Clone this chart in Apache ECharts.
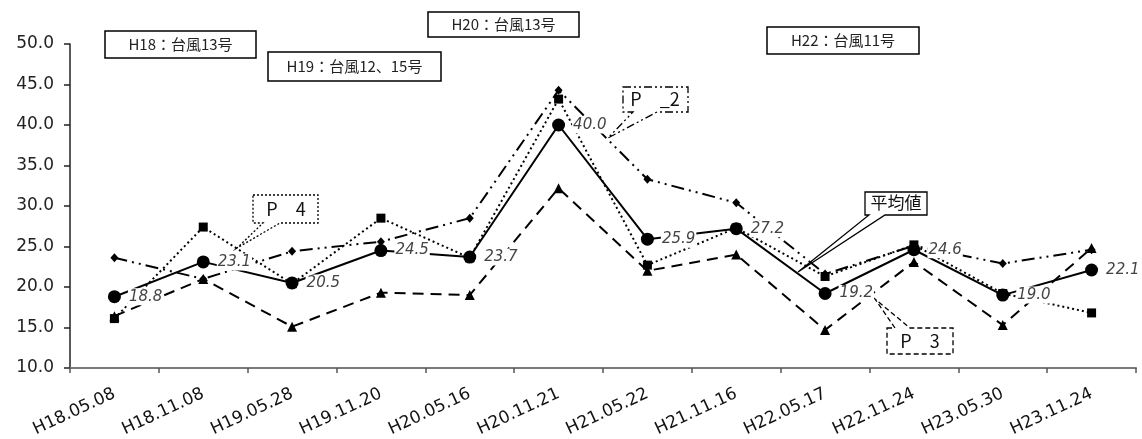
<!DOCTYPE html>
<html><head><meta charset="utf-8">
<script src="https://cdn.jsdelivr.net/npm/echarts@6/dist/echarts.min.js"></script>
<style>html,body{margin:0;padding:0;background:#fff}#c{width:1142px;height:439px}</style>
</head><body><div id="c"></div>
<script>
const categories = ['H18.05.08','H18.11.08','H19.05.28','H19.11.20','H20.05.16','H20.11.21','H21.05.22','H21.11.16','H22.05.17','H22.11.24','H23.05.30','H23.11.24'];
const meanValues = [18.8,23.1,20.5,24.5,23.7,40.0,25.9,27.2,19.2,24.6,19.0,22.1];
const p2Values = [23.6,21.0,24.4,25.6,28.5,44.3,33.3,30.4,21.6,25.1,22.9,24.6];
const p3Values = [16.4,21.0,15.1,19.3,19.0,32.2,22.0,24.0,14.7,23.1,15.3,24.8];
const p4Values = [16.1,27.4,20.4,28.5,23.6,43.2,22.7,27.3,21.3,25.2,19.2,16.8];
const yMin = 10, yMax = 50, yStep = 5;
const eventLabels = ['H18：台風13号','H19：台風12、15号','H20：台風13号','H22：台風11号'];
const calloutLabels = ['平均値','P　_2','P　3','P　4'];

const chart = echarts.init(document.getElementById('c'), null, {renderer:'canvas'});
const F = 'DejaVu Sans';
const CJK = '"Noto Sans CJK JP", "Noto Sans CJK SC", sans-serif';

function box(x,y,w,h,text,fs){
  return {type:'group', z:50, children:[
    {type:'rect', shape:{x:x,y:y,width:w,height:h}, style:{fill:'#fff', stroke:'#000', lineWidth:1.5}},
    {type:'text', x:x+w/2, y:y+h/2, style:{text:text, fill:'#222', font:'400 '+fs+'px '+CJK, align:'center', verticalAlign:'middle'}}
  ]};
}
function callout(pts, text, tx, ty, dash, fs){
  return {type:'group', z:50, children:[
    {type:'polygon', shape:{points:pts}, style:{fill:'rgba(255,255,255,0)', stroke:'#000', lineWidth:1.3, lineDash:dash}},
    {type:'text', x:tx, y:ty, style:{text:text, fill:'#111', font:'400 '+fs+'px '+CJK, align:'center', verticalAlign:'middle'}}
  ]};
}

const option = {
  animation:false,
  backgroundColor:'#fff',
  grid:{left:70, right:6, top:44, bottom:71, containLabel:false, outerBoundsMode:'none'},
  xAxis:{type:'category', data:categories, boundaryGap:true,
    axisLine:{lineStyle:{color:'#7a7a7a', width:2}},
    axisTick:{show:true, length:5, lineStyle:{color:'#555', width:1.5}},
    axisLabel:{rotate:25, margin:25, fontFamily:F, fontSize:17, color:'#111'},
    splitLine:{show:false}},
  yAxis:{type:'value', min:yMin, max:yMax, interval:yStep,
    axisLine:{show:true, lineStyle:{color:'#222', width:1.5}},
    axisTick:{show:true, length:6, lineStyle:{color:'#222', width:1.5}},
    axisLabel:{margin:16, fontFamily:F, fontSize:17, color:'#222', formatter:v=>v.toFixed(1)},
    splitLine:{show:false}},
  series:[
    {name:'P 2', type:'line', data:p2Values, z:3, symbol:'diamond', symbolSize:[8,9],
      lineStyle:{color:'#000', width:2, type:[13,5,2,5,2,5]}, itemStyle:{color:'#000'}},
    {name:'P 3', type:'line', data:p3Values, z:4, symbol:'triangle', symbolSize:10,
      lineStyle:{color:'#000', width:2, type:[11,7]}, itemStyle:{color:'#000'}},
    {name:'P 4', type:'line', data:p4Values, z:5, symbol:'rect', symbolSize:9,
      lineStyle:{color:'#000', width:2, type:[2,3]}, itemStyle:{color:'#000'}},
    {name:'平均値', type:'line', data:meanValues, z:10, symbol:'circle', symbolSize:13,
      lineStyle:{color:'#000', width:2}, itemStyle:{color:'#000'},
      label:{show:true, position:'right', distance:7, formatter:p=>p.value.toFixed(1),
        fontFamily:F, fontStyle:'italic', fontSize:15, color:'#444',
        backgroundColor:'#fff', padding:[1,1,1,1]}}
  ],
  graphic:[
    box(105,31,151,27,eventLabels[0],15),
    box(268,52,173,29,eventLabels[1],15),
    box(428,12,151,25,eventLabels[2],15),
    box(767,27,152,27,eventLabels[3],15),
    callout([[865,192],[927,192],[927,215],[885,215],[798,272],[869,215],[865,215]], calloutLabels[0], 896, 203, null, 17),
    callout([[623,87],[688,87],[688,112],[657,112],[608,138],[633,112],[623,112]], calloutLabels[1], 655, 99, [8,3,2,3,2,3], 18),
    callout([[887,328],[895,328],[875,299],[910,328],[953,328],[953,354],[887,354]], calloutLabels[2], 920, 341, [5,3], 18),
    callout([[253,195],[318,195],[318,223],[280,223],[237,248],[263,223],[253,223]], calloutLabels[3], 286, 209, [2,2], 18)
  ]
};
chart.setOption(option);
</script></body></html>
